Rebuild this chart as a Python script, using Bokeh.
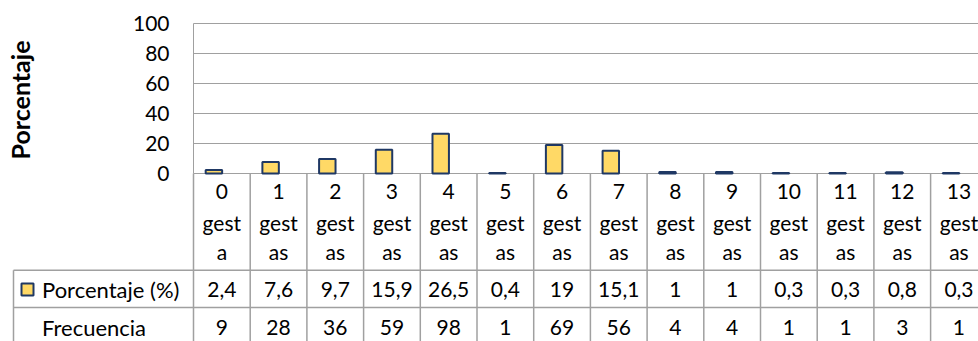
import math
from bokeh.plotting import figure
from bokeh.models import Range1d, ColumnDataSource
from bokeh.core.properties import value
from bokeh.embed import file_html
from bokeh.resources import INLINE

# ---- data ----
categories = ["0 gesta", "1 gestas", "2 gestas", "3 gestas", "4 gestas", "5 gestas",
              "6 gestas", "7 gestas", "8 gestas", "9 gestas", "10 gestas", "11 gestas",
              "12 gestas", "13 gestas"]
porcentaje = [2.4, 7.6, 9.7, 15.9, 26.5, 0.4, 19, 15.1, 1, 1, 0.3, 0.3, 0.8, 0.3]
frecuencia = [9, 28, 36, 59, 98, 1, 69, 56, 4, 4, 1, 1, 3, 1]
y_ticks = [0, 20, 40, 60, 80, 100]
series_name = "Porcentaje (%)"
row2_name = "Frecuencia"
y_title = "Porcentaje"

# ---- style / geometry ----
FONT = "Lato"
FS = "21px"
GRID = "#a0a0a0"
FILL = "#ffd966"
EDGE = "#1f3864"
W, H = 978, 341
LEFT = 193          # page x of the plot area's left edge
COLW = 56.7         # column width in px
ZERO_Y = 173        # page y of value 0
PX_PER_PCT = 1.5    # px per percentage point

n = len(categories)
xr_start = -LEFT / COLW
xr_end = (W - LEFT) / COLW

p = figure(width=W, height=H, output_backend="svg", toolbar_location=None,
           x_range=Range1d(xr_start, xr_end), y_range=Range1d(H, 0), min_border=0)
p.outline_line_color = None
p.axis.visible = False
p.grid.visible = False
p.extra_y_ranges = {"pct": Range1d(-(H - ZERO_Y) / PX_PER_PCT, ZERO_Y / PX_PER_PCT)}

def px_x(px):
    return (px - LEFT) / COLW

# ---- chart area (percentage scale) ----
p.segment(x0=[0] * len(y_ticks), y0=y_ticks, x1=[xr_end] * len(y_ticks), y1=y_ticks,
          y_range_name="pct", line_color=GRID, line_width=1)
p.segment(x0=[0], y0=[0], x1=[0], y1=[max(y_ticks)], y_range_name="pct",
          line_color=GRID, line_width=1)
p.text(x=[px_x(169)] * len(y_ticks), y=y_ticks, text=[str(v) for v in y_ticks],
       y_range_name="pct", text_font=value(FONT), text_font_size=value(FS),
       text_align="right", text_baseline="middle", text_color="#000000")
p.text(x=[px_x(19)], y=[49], text=[y_title], angle=math.pi / 2, y_range_name="pct",
       text_font=value(FONT), text_font_size=value("25px"), text_font_style="bold",
       text_align="center", text_baseline="middle", text_color="#000000")

src = ColumnDataSource(dict(x=[i + 0.36 for i in range(n)], top=porcentaje))
p.vbar(x="x", top="top", bottom=0, width=0.29, source=src, y_range_name="pct",
       fill_color=FILL, line_color=EDGE, line_width=2)

# ---- data table (page-pixel y scale) ----
x_left = px_x(13)
row1_top = 269.7
row2_top = 307
p.segment(x0=list(range(n)), y0=[ZERO_Y] * n, x1=list(range(n)), y1=[H] * n,
          line_color=GRID, line_width=1.5)
p.segment(x0=[x_left], y0=[row1_top], x1=[x_left], y1=[H], line_color=GRID, line_width=1.5)
p.segment(x0=[x_left, x_left], y0=[row1_top, row2_top], x1=[xr_end, xr_end],
          y1=[row1_top, row2_top], line_color=GRID, line_width=1.5)

xc = [i + 0.5 for i in range(n)]
nums = [c.split()[0] for c in categories]
w1 = [c.split()[1][:4] for c in categories]
w2 = [c.split()[1][4:] for c in categories]
for lines, ym in ((nums, 191), (w1, 221.5), (w2, 251)):
    p.text(x=xc, y=[ym] * n, text=lines, text_font=value(FONT), text_font_size=value(FS),
           text_align="center", text_baseline="middle", text_color="#000000")

pct_txt = [f"{v:g}".replace(".", ",") for v in porcentaje]
frq_txt = [str(v) for v in frecuencia]
ROW1_MID = 288.5
ROW2_MID = 326.5
p.text(x=xc, y=[ROW1_MID] * n, text=pct_txt, text_font=value(FONT), text_font_size=value(FS),
       text_align="center", text_baseline="middle", text_color="#000000")
p.text(x=xc, y=[ROW2_MID] * n, text=frq_txt, text_font=value(FONT), text_font_size=value(FS),
       text_align="center", text_baseline="middle", text_color="#000000")

p.scatter(x=[px_x(27)], y=[289], marker="square", size=12,
          fill_color=FILL, line_color=EDGE, line_width=2)
lab_x = px_x(41.5)
p.text(x=[lab_x, lab_x], y=[ROW1_MID, ROW2_MID], text=[series_name, row2_name],
       text_font=value(FONT), text_font_size=value("22px"),
       text_align="left", text_baseline="middle", text_color="#000000")

open("out.html", "w").write(file_html(p, INLINE))
